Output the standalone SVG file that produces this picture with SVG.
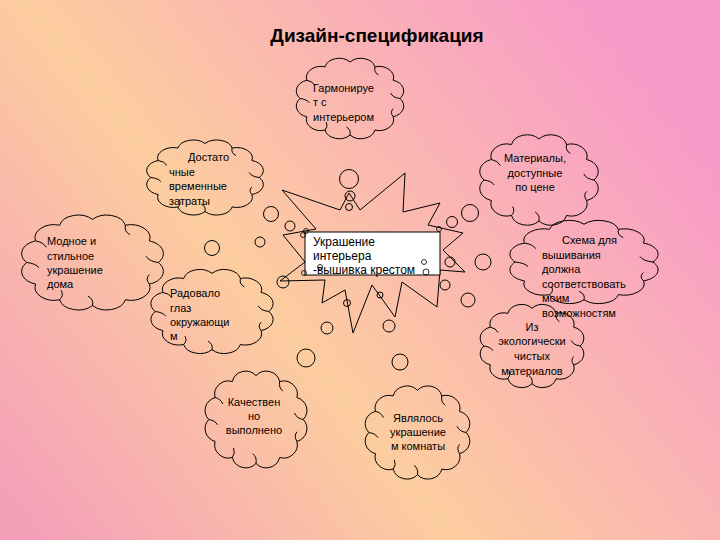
<svg xmlns="http://www.w3.org/2000/svg" xmlns:xlink="http://www.w3.org/1999/xlink" width="720" height="540" viewBox="0 0 720 540">
<style>
.cl{fill:none;stroke:#000;stroke-width:1;vector-effect:non-scaling-stroke}
.t{font-family:"Liberation Sans",Arial,sans-serif;font-size:11px;fill:#000}
.m{text-anchor:middle}
.b{fill:none;stroke:#000;stroke-width:1}
.h{fill:none;stroke:#000;stroke-width:0.8}
</style>
<defs>
<linearGradient id="bg" x1="0" y1="0.9" x2="1" y2="0.3">
<stop offset="0" stop-color="#f5a0b9"/>
<stop offset="0.42" stop-color="#fccd9f"/>
<stop offset="1" stop-color="#f89ac9"/>
</linearGradient>
<path id="cloud" class="cl" d="M93,50 A12.5,12.5 0 0 1 87.2,70.5 A12.5,12.5 0 0 1 71.5,85.5 A12.5,12.5 0 0 1 50,91 A12.5,12.5 0 0 1 28.5,85.5 A12.5,12.5 0 0 1 12.8,70.5 A12.5,12.5 0 0 1 7,50 A12.5,12.5 0 0 1 12.8,29.5 A12.5,12.5 0 0 1 28.5,14.5 A12.5,12.5 0 0 1 50,9 A12.5,12.5 0 0 1 71.5,14.5 A12.5,12.5 0 0 1 87.2,29.5 A12.5,12.5 0 0 1 93,50 Z"/>
<path id="curls" class="cl" d="M87.2,70.5 q-3,-5 0,-9 M50,91 q1,-6 -3,-9 M12.8,29.5 q5,1 7,6 M71.5,14.5 q-1,6 3,9 M93,50 q-6,-1 -8,-6 M7,50 q6,1 8,5 M28.5,85.5 q3,-4 1,-9"/>
</defs>
<rect x="0" y="0" width="720" height="540" fill="url(#bg)"/>
<text x="377" y="42" font-family="Liberation Sans,Arial,sans-serif" font-size="19" font-weight="bold" text-anchor="middle">Дизайн-спецификация</text>

<g id="connectors">
<circle class="b" cx="349" cy="179" r="9.5"/>
<circle class="b" cx="350" cy="196" r="5"/>
<circle class="b" cx="349" cy="207" r="3.5"/>
<circle class="b" cx="271" cy="214" r="7.5"/>
<circle class="b" cx="290" cy="226" r="5"/>
<circle class="b" cx="212" cy="248" r="7.5"/>
<circle class="b" cx="260" cy="242" r="5"/>
<circle class="b" cx="283" cy="282" r="6"/>
<circle class="b" cx="470" cy="213" r="8.5"/>
<circle class="b" cx="452" cy="222" r="5.5"/>
<circle class="b" cx="483" cy="262" r="8"/>
<circle class="b" cx="450" cy="262" r="5"/>
<circle class="b" cx="468" cy="300" r="7"/>
<circle class="b" cx="445" cy="285" r="5"/>
<circle class="b" cx="306" cy="358" r="9"/>
<circle class="b" cx="327" cy="328" r="6"/>
<circle class="b" cx="347" cy="303" r="3.5"/>
<circle class="b" cx="400" cy="362" r="8"/>
<circle class="b" cx="389" cy="326" r="6"/>
<circle class="b" cx="380" cy="295" r="3"/>
</g>

<g id="star">
<polygon class="b" points="282,190 340,210 349,193 360,210 405,173 403,212 440,203 428,225 463,233 443,250 465,272 440,270 437,307 402,282 395,317 372,285 353,333 345,290 322,303 325,280 280,281 305,262 283,235 316,229"/>
<rect x="305" y="232" width="135" height="43" fill="#fff" stroke="#000" stroke-width="1"/>
<circle class="h" cx="303" cy="235" r="2.5"/>
<circle class="h" cx="306" cy="231" r="2.5"/>
<circle class="h" cx="439" cy="229" r="2.5"/>
<circle class="h" cx="424" cy="262" r="2.5"/>
<circle class="h" cx="426" cy="272" r="3"/>
<circle class="h" cx="320" cy="267" r="2.5"/>
<circle class="h" cx="304" cy="273" r="2.5"/>
<text class="t" style="font-size:12px" x="313" y="246">Украшение</text>
<text class="t" style="font-size:12px" x="313" y="260">интерьера</text>
<text class="t" style="font-size:12px" x="313" y="274">-вышивка крестом</text>
</g>

<g id="n-garm">
<use xlink:href="#cloud" transform="translate(292,54) scale(1.16,0.89)"/>
<use xlink:href="#curls" transform="translate(292,54) scale(1.16,0.89)"/>
<text class="t" x="313" y="92">Гармонируе</text>
<text class="t" x="313" y="106">т с</text>
<text class="t" x="313" y="121">интерьером</text>
</g>

<g id="n-dost">
<use xlink:href="#cloud" transform="translate(142,136) scale(1.26,0.83)"/>
<use xlink:href="#curls" transform="translate(142,136) scale(1.26,0.83)"/>
<text class="t" x="188" y="161">Достато</text>
<text class="t" x="169" y="176">чные</text>
<text class="t" x="169" y="190">временные</text>
<text class="t" x="169" y="205">затраты</text>
</g>

<g id="n-mat">
<use xlink:href="#cloud" transform="translate(475,130) scale(1.28,1.0)"/>
<use xlink:href="#curls" transform="translate(475,130) scale(1.28,1.0)"/>
<text class="t m" x="535" y="162">Материалы,</text>
<text class="t m" x="535" y="177">доступные</text>
<text class="t m" x="535" y="191">по цене</text>
</g>

<g id="n-mod">
<use xlink:href="#cloud" transform="translate(16,210) scale(1.53,1.05)"/>
<use xlink:href="#curls" transform="translate(16,210) scale(1.53,1.05)"/>
<text class="t" x="47" y="245">Модное и</text>
<text class="t" x="47" y="260">стильное</text>
<text class="t" x="47" y="274">украшение</text>
<text class="t" x="47" y="288">дома</text>
</g>

<g id="n-shema">
<use xlink:href="#cloud" transform="translate(504,216) scale(1.6,0.92)"/>
<use xlink:href="#curls" transform="translate(504,216) scale(1.6,0.92)"/>
<text class="t" x="562" y="244">Схема для</text>
<text class="t" x="542" y="258.5">вышивания</text>
<text class="t" x="542" y="273">должна</text>
<text class="t" x="542" y="287.5">соответствовать</text>
<text class="t" x="542" y="302">моим</text>
<text class="t" x="542" y="316.5">возможностям</text>
</g>

<g id="n-iz">
<use xlink:href="#cloud" transform="translate(476,300) scale(1.12,0.92)"/>
<use xlink:href="#curls" transform="translate(476,300) scale(1.12,0.92)"/>
<text class="t m" x="532" y="331">Из</text>
<text class="t m" x="532" y="345">экологически</text>
<text class="t m" x="532" y="360">чистых</text>
<text class="t m" x="532" y="375">материалов</text>
</g>

<g id="n-rad">
<use xlink:href="#cloud" transform="translate(146,265) scale(1.32,0.93)"/>
<use xlink:href="#curls" transform="translate(146,265) scale(1.32,0.93)"/>
<text class="t" x="170" y="297">Радовало</text>
<text class="t" x="170" y="312">глаз</text>
<text class="t" x="170" y="326">окружающи</text>
<text class="t" x="170" y="340">м</text>
</g>

<g id="n-kach">
<use xlink:href="#cloud" transform="translate(201,366) scale(1.1,1.07)"/>
<use xlink:href="#curls" transform="translate(201,366) scale(1.1,1.07)"/>
<text class="t m" x="254" y="406">Качествен</text>
<text class="t m" x="254" y="420">но</text>
<text class="t m" x="254" y="434">выполнено</text>
</g>

<g id="n-yavl">
<use xlink:href="#cloud" transform="translate(361,381) scale(1.13,1.03)"/>
<use xlink:href="#curls" transform="translate(361,381) scale(1.13,1.03)"/>
<text class="t m" x="418" y="422">Являлось</text>
<text class="t m" x="418" y="436">украшение</text>
<text class="t m" x="418" y="450">м комнаты</text>
</g>
</svg>
